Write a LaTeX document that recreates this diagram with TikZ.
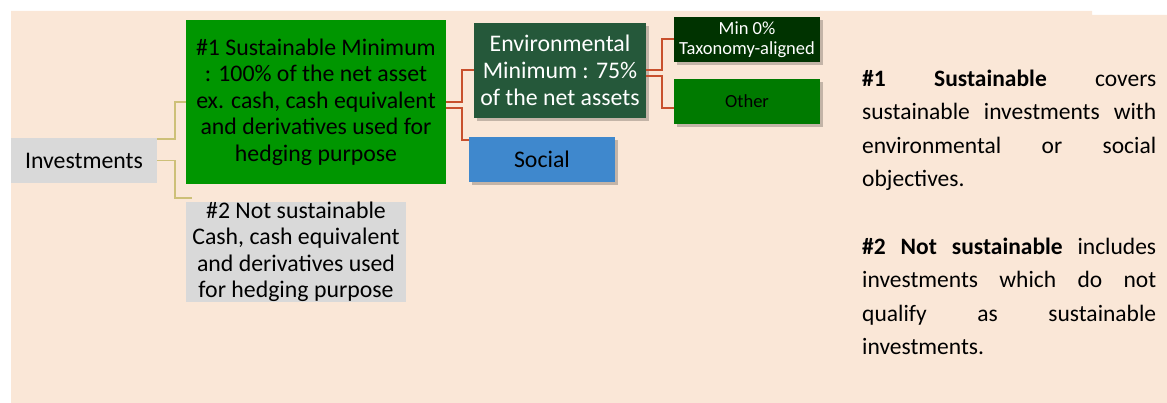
\documentclass[tikz,border=0pt]{standalone}
\usepackage{fontspec}
\setmainfont{Carlito}
\usetikzlibrary{shadows,calc}
\definecolor{bg}{RGB}{250,231,215}
\definecolor{gonegreen}{RGB}{0,150,0}
\definecolor{greybox}{RGB}{217,217,217}
\definecolor{envgreen}{RGB}{37,88,58}
\definecolor{mingreen}{RGB}{0,51,0}
\definecolor{othergreen}{RGB}{0,122,0}
\definecolor{socblue}{RGB}{63,136,205}
\definecolor{redline}{RGB}{200,80,45}
\definecolor{tanline}{RGB}{205,192,120}
\tikzset{
  box/.style={rectangle, inner sep=0pt, align=center},
  big/.style={font=\fontsize{23.8}{26.5}\selectfont},
  small/.style={font=\fontsize{18.5}{20}\selectfont},
  shad/.style={drop shadow={shadow xshift=3pt, shadow yshift=-3pt, fill=black, opacity=0.22}},
  redconn/.style={draw=redline, line width=2pt},
  tanconn/.style={draw=tanline, line width=1.7pt},
  sidetext/.style={anchor=north west, inner sep=0pt, text width=294pt, align=justify,
    font=\fontsize{23.5}{33.5}\selectfont}
}
\begin{document}
\begin{tikzpicture}[x=1pt,y=-1pt]
\useasboundingbox (0,0) rectangle (1167,403);
\fill[bg] (11,11) -- (1092,11) -- (1092,15) -- (1167,15) -- (1167,403) -- (11,403) -- cycle;

\node[box, big, fill=greybox, minimum width=146pt, minimum height=45pt] (inv) at (84,160.5) {Investments};
\node[box, big, fill=gonegreen, minimum width=260pt, minimum height=164pt] (g1) at (316,102)
  {\#1 Sustainable Minimum\\ : 100\% of the net asset\\ ex. cash, cash equivalent\\ and derivatives used for\\ hedging purpose};
\node[box, big, fill=greybox, minimum width=220pt, minimum height=100pt] (ns) at (296,252)
  {\#2 Not sustainable\\ Cash, cash equivalent\\ and derivatives used\\ for hedging purpose};
\node[box, big, shad, fill=envgreen, text=white, minimum width=172pt, minimum height=95pt, font=\fontsize{23.8}{27}\selectfont] (env) at (560,70.5)
  {Environmental\\ Minimum : 75\%\\ of the net assets};
\node[box, big, shad, fill=socblue, minimum width=146pt, minimum height=45pt] (soc) at (542,159.5) {Social};
\node[box, small, shad, fill=mingreen, text=white, minimum width=146pt, minimum height=45pt] (min) at (747,39.5)
  {Min 0\%\\ Taxonomy-aligned};
\node[box, small, shad, fill=othergreen, minimum width=146pt, minimum height=45pt] (oth) at (747,101.5) {Other};

% connectors Investments
\draw[tanconn] ([yshift=21.5pt]inv.east) -- ++(18,0) |- (g1.west);
\draw[tanconn] (inv.east) -- ++(18,0) |- ([xshift=6pt,yshift=4pt]ns.north west);

% connectors #1 -> env / social
\draw[redconn] (g1.east) -- ++(16,0) |- (env.west);
\draw[redconn] ([yshift=-6pt]g1.east) -- ++(16,0) |- ([yshift=-3pt]soc.north west);

% connectors env -> min / other
\draw[redconn] (env.east) -- ++(16,0) |- (min.west);
\draw[redconn] ([yshift=-6pt]env.east) -- ++(16,0) |- ([yshift=-6.5pt]oth.west);

% side text
\node[sidetext] (t1) at (862,69.5) {\hyphenpenalty=10000\parindent=0pt
  \textbf{\#1\hfill Sustainable}\hfill covers\linebreak
  sustainable investments with\linebreak
  environmental or social\linebreak
  objectives.};
\node[sidetext] (t2) at (862,237.5) {\hyphenpenalty=10000\parindent=0pt
  \textbf{\#2 Not sustainable} includes\linebreak
  investments which do not\linebreak
  qualify as sustainable\linebreak
  investments.};
\end{tikzpicture}
\end{document}
